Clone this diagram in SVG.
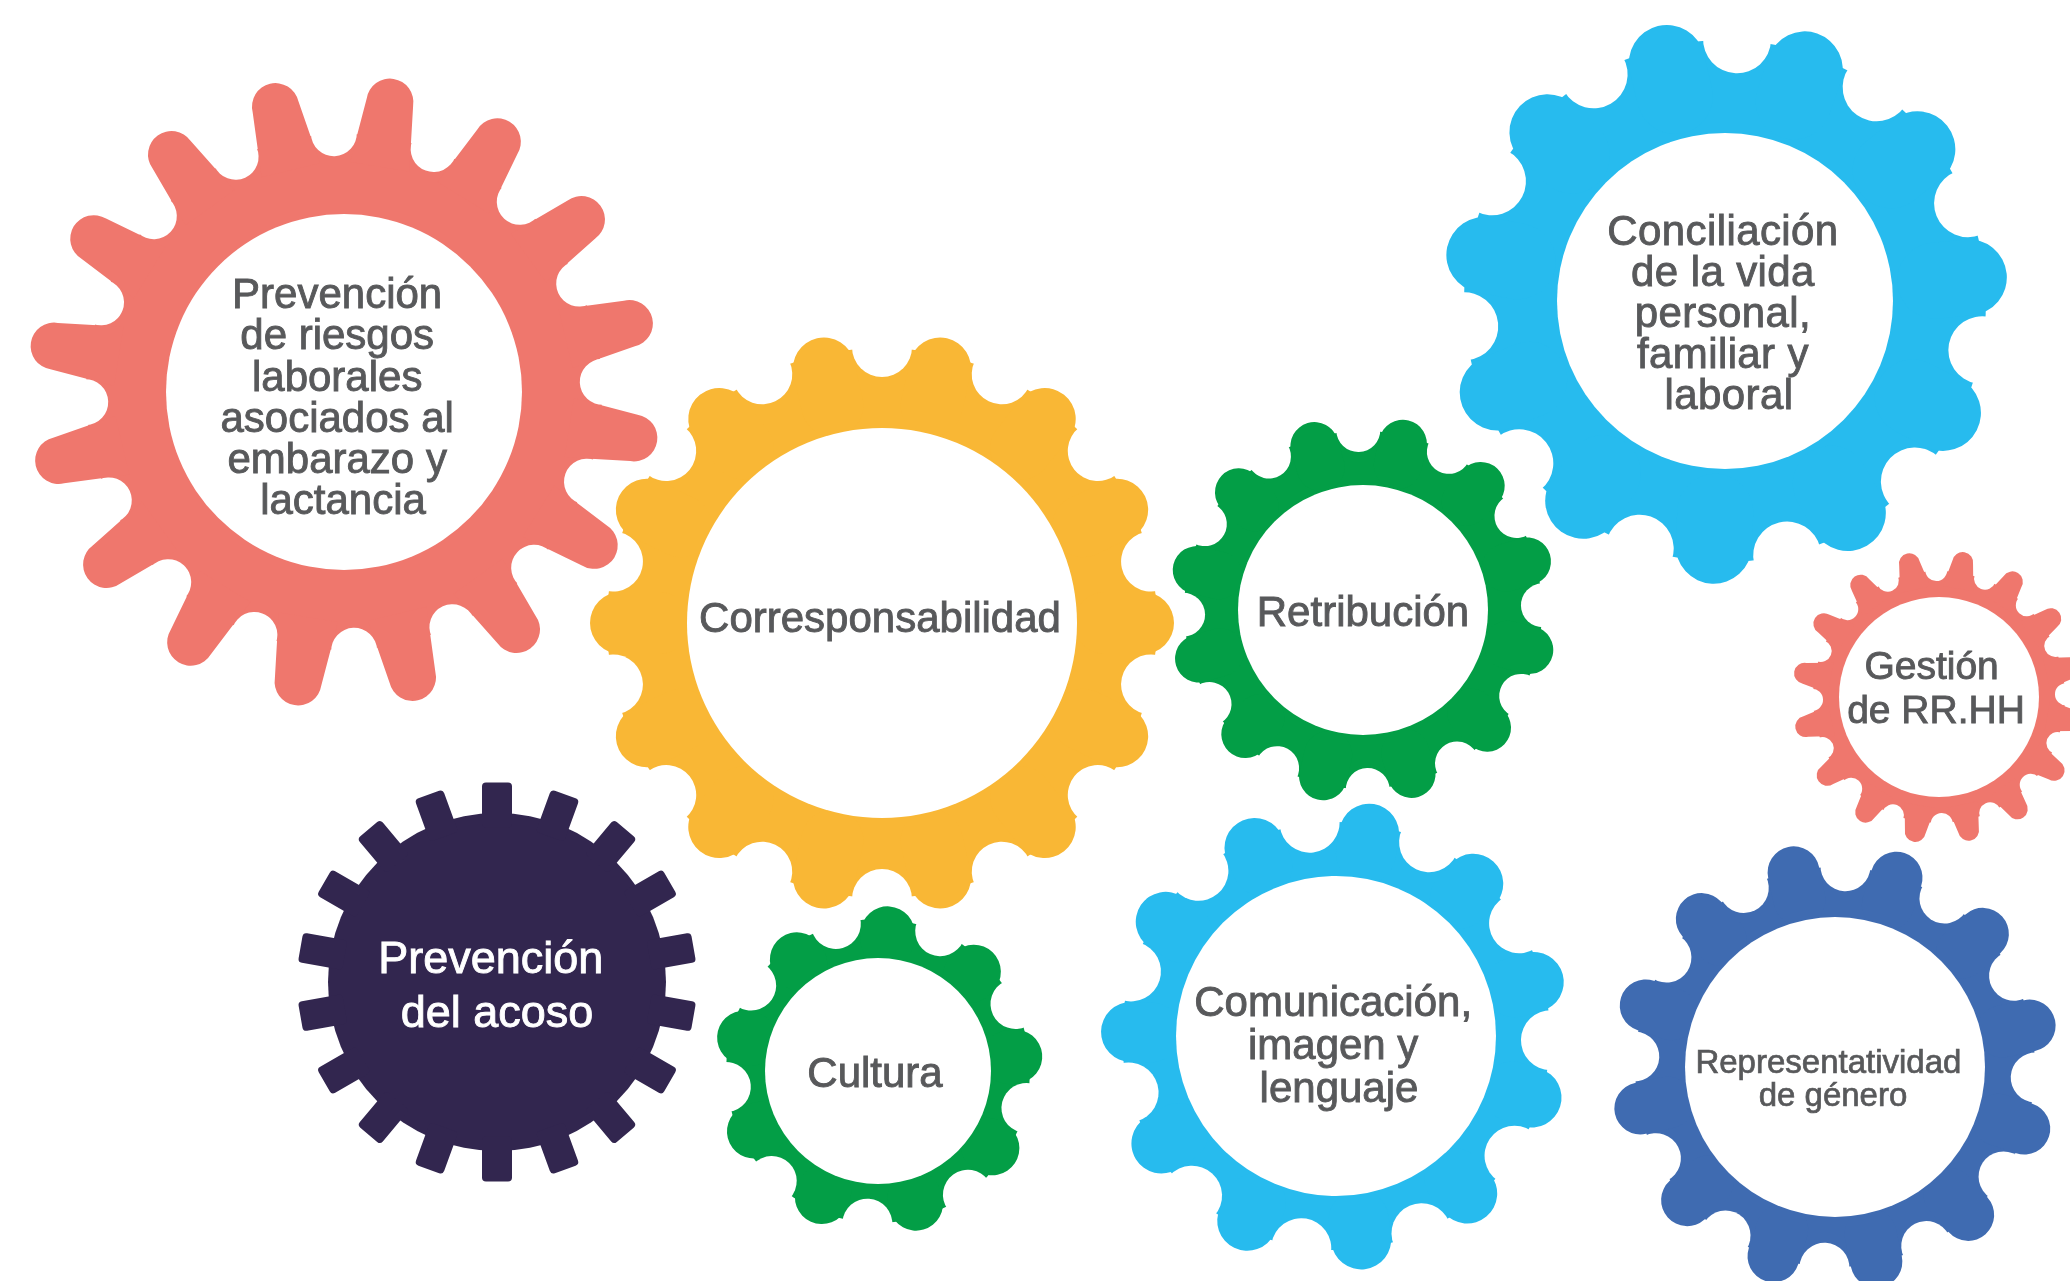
<svg xmlns="http://www.w3.org/2000/svg" width="2070" height="1281" viewBox="0 0 2070 1281">
<style>
.in{fill:#fff}
.lbl{font-family:"Liberation Sans",Arial,sans-serif;font-size:42px;fill:#58595b;stroke:#58595b;stroke-width:0.9px;text-anchor:middle}
.lbl.wht{fill:#fff;stroke:#fff;font-size:45px}
.red{fill:#ef776d}.yel{fill:#f9b735}.cy{fill:#27bbee}.grn{fill:#039e46}.nav{fill:#32264f}.dbl{fill:#3f6bb1}
.blk{fill:#000}
</style>
<defs>
  <!-- tooth and notch shapes, drawn pointing up from the gear centre -->
  <path id="t-riesgos" d="M-30,-228 L-23.5,-293.5 A23.5,23.5 0 0 1 23.5,-293.5 L30,-228 Z"/>
  <circle id="n-riesgos" cx="0" cy="-259" r="23"/>
  <path id="t-gestion" d="M-15.5,-110 L-10.5,-136.5 A10.5,10.5 0 0 1 10.5,-136.5 L15.5,-110 Z"/>
  <circle id="n-gestion" cx="0" cy="-127" r="11"/>
  <rect id="t-corr" x="-31" y="-292" width="62" height="100" rx="31"/>
  <circle id="n-corr" cx="0" cy="-276" r="30"/>
  <rect id="t-conc" x="-38" y="-283" width="76" height="110" rx="38"/>
  <circle id="n-conc" cx="0" cy="-262" r="34"/>
  <rect id="t-retr" x="-24" y="-195" width="48" height="70" rx="24"/>
  <circle id="n-retr" cx="0" cy="-180" r="22"/>
  <rect id="t-cult" x="-27" y="-165" width="54" height="60" rx="27"/>
  <circle id="n-cult" cx="0" cy="-153" r="25"/>
  <rect id="t-comu" x="-30" y="-235" width="60" height="80" rx="30"/>
  <circle id="n-comu" cx="0" cy="-215" r="30"/>
  <rect id="t-repr" x="-26" y="-225" width="52" height="80" rx="26"/>
  <circle id="n-repr" cx="0" cy="-201" r="25"/>
  <rect id="t-acoso" x="-15" y="-199.5" width="30" height="45" rx="4"/>

  <mask id="m-riesgos" maskUnits="userSpaceOnUse" x="-330" y="-330" width="660" height="660">
    <rect x="-330" y="-330" width="660" height="660" fill="#fff"/>
    <g class="blk">
      <use href="#n-riesgos" transform="rotate(20.25)"/><use href="#n-riesgos" transform="rotate(42.75)"/>
      <use href="#n-riesgos" transform="rotate(65.25)"/><use href="#n-riesgos" transform="rotate(87.75)"/>
      <use href="#n-riesgos" transform="rotate(110.25)"/><use href="#n-riesgos" transform="rotate(132.75)"/>
      <use href="#n-riesgos" transform="rotate(155.25)"/><use href="#n-riesgos" transform="rotate(177.75)"/>
      <use href="#n-riesgos" transform="rotate(200.25)"/><use href="#n-riesgos" transform="rotate(222.75)"/>
      <use href="#n-riesgos" transform="rotate(245.25)"/><use href="#n-riesgos" transform="rotate(267.75)"/>
      <use href="#n-riesgos" transform="rotate(290.25)"/><use href="#n-riesgos" transform="rotate(312.75)"/>
      <use href="#n-riesgos" transform="rotate(335.25)"/><use href="#n-riesgos" transform="rotate(357.75)"/>
    </g>
  </mask>
  <mask id="m-gestion" maskUnits="userSpaceOnUse" x="-160" y="-160" width="320" height="320">
    <rect x="-160" y="-160" width="320" height="320" fill="#fff"/>
    <g class="blk">
      <use href="#n-gestion" transform="rotate(21.25)"/><use href="#n-gestion" transform="rotate(43.75)"/>
      <use href="#n-gestion" transform="rotate(66.25)"/><use href="#n-gestion" transform="rotate(88.75)"/>
      <use href="#n-gestion" transform="rotate(111.25)"/><use href="#n-gestion" transform="rotate(133.75)"/>
      <use href="#n-gestion" transform="rotate(156.25)"/><use href="#n-gestion" transform="rotate(178.75)"/>
      <use href="#n-gestion" transform="rotate(201.25)"/><use href="#n-gestion" transform="rotate(223.75)"/>
      <use href="#n-gestion" transform="rotate(246.25)"/><use href="#n-gestion" transform="rotate(268.75)"/>
      <use href="#n-gestion" transform="rotate(291.25)"/><use href="#n-gestion" transform="rotate(313.75)"/>
      <use href="#n-gestion" transform="rotate(336.25)"/><use href="#n-gestion" transform="rotate(358.75)"/>
    </g>
  </mask>
  <mask id="m-corr" maskUnits="userSpaceOnUse" x="-310" y="-310" width="620" height="620">
    <rect x="-310" y="-310" width="620" height="620" fill="#fff"/>
    <g class="blk">
      <use href="#n-corr" transform="rotate(0)"/><use href="#n-corr" transform="rotate(25.71)"/>
      <use href="#n-corr" transform="rotate(51.43)"/><use href="#n-corr" transform="rotate(77.14)"/>
      <use href="#n-corr" transform="rotate(102.86)"/><use href="#n-corr" transform="rotate(128.57)"/>
      <use href="#n-corr" transform="rotate(154.29)"/><use href="#n-corr" transform="rotate(180)"/>
      <use href="#n-corr" transform="rotate(205.71)"/><use href="#n-corr" transform="rotate(231.43)"/>
      <use href="#n-corr" transform="rotate(257.14)"/><use href="#n-corr" transform="rotate(282.86)"/>
      <use href="#n-corr" transform="rotate(308.57)"/><use href="#n-corr" transform="rotate(334.29)"/>
    </g>
  </mask>
  <mask id="m-conc" maskUnits="userSpaceOnUse" x="-310" y="-310" width="620" height="620">
    <rect x="-310" y="-310" width="620" height="620" fill="#fff"/>
    <g class="blk">
      <use href="#n-conc" transform="rotate(2.64)"/><use href="#n-conc" transform="rotate(35.36)"/>
      <use href="#n-conc" transform="rotate(68.09)"/><use href="#n-conc" transform="rotate(100.82)"/>
      <use href="#n-conc" transform="rotate(133.55)"/><use href="#n-conc" transform="rotate(166.27)"/>
      <use href="#n-conc" transform="rotate(199)"/><use href="#n-conc" transform="rotate(231.73)"/>
      <use href="#n-conc" transform="rotate(264.45)"/><use href="#n-conc" transform="rotate(297.18)"/>
      <use href="#n-conc" transform="rotate(329.91)"/>
    </g>
  </mask>
  <mask id="m-retr" maskUnits="userSpaceOnUse" x="-220" y="-220" width="440" height="440">
    <rect x="-220" y="-220" width="440" height="440" fill="#fff"/>
    <g class="blk">
      <use href="#n-retr" transform="rotate(28.5)"/><use href="#n-retr" transform="rotate(58.5)"/>
      <use href="#n-retr" transform="rotate(88.5)"/><use href="#n-retr" transform="rotate(118.5)"/>
      <use href="#n-retr" transform="rotate(148.5)"/><use href="#n-retr" transform="rotate(178.5)"/>
      <use href="#n-retr" transform="rotate(208.5)"/><use href="#n-retr" transform="rotate(238.5)"/>
      <use href="#n-retr" transform="rotate(268.5)"/><use href="#n-retr" transform="rotate(298.5)"/>
      <use href="#n-retr" transform="rotate(328.5)"/><use href="#n-retr" transform="rotate(358.5)"/>
    </g>
  </mask>
  <mask id="m-cult" maskUnits="userSpaceOnUse" x="-190" y="-190" width="380" height="380">
    <rect x="-190" y="-190" width="380" height="380" fill="#fff"/>
    <g class="blk">
      <use href="#n-cult" transform="rotate(24)"/><use href="#n-cult" transform="rotate(64)"/>
      <use href="#n-cult" transform="rotate(104)"/><use href="#n-cult" transform="rotate(144)"/>
      <use href="#n-cult" transform="rotate(184)"/><use href="#n-cult" transform="rotate(224)"/>
      <use href="#n-cult" transform="rotate(264)"/><use href="#n-cult" transform="rotate(304)"/>
      <use href="#n-cult" transform="rotate(344)"/>
    </g>
  </mask>
  <mask id="m-comu" maskUnits="userSpaceOnUse" x="-260" y="-260" width="520" height="520">
    <rect x="-260" y="-260" width="520" height="520" fill="#fff"/>
    <g class="blk">
      <use href="#n-comu" transform="rotate(25.66)"/><use href="#n-comu" transform="rotate(58.39)"/>
      <use href="#n-comu" transform="rotate(91.12)"/><use href="#n-comu" transform="rotate(123.85)"/>
      <use href="#n-comu" transform="rotate(156.57)"/><use href="#n-comu" transform="rotate(189.3)"/>
      <use href="#n-comu" transform="rotate(222.03)"/><use href="#n-comu" transform="rotate(254.75)"/>
      <use href="#n-comu" transform="rotate(287.48)"/><use href="#n-comu" transform="rotate(320.21)"/>
      <use href="#n-comu" transform="rotate(352.94)"/>
    </g>
  </mask>
  <mask id="m-repr" maskUnits="userSpaceOnUse" x="-250" y="-250" width="500" height="500">
    <rect x="-250" y="-250" width="500" height="500" fill="#fff"/>
    <g class="blk">
      <use href="#n-repr" transform="rotate(3)"/><use href="#n-repr" transform="rotate(33)"/>
      <use href="#n-repr" transform="rotate(63)"/><use href="#n-repr" transform="rotate(93)"/>
      <use href="#n-repr" transform="rotate(123)"/><use href="#n-repr" transform="rotate(153)"/>
      <use href="#n-repr" transform="rotate(183)"/><use href="#n-repr" transform="rotate(213)"/>
      <use href="#n-repr" transform="rotate(243)"/><use href="#n-repr" transform="rotate(273)"/>
      <use href="#n-repr" transform="rotate(303)"/><use href="#n-repr" transform="rotate(333)"/>
    </g>
  </mask>
</defs>

<rect width="2070" height="1281" fill="#fff"/>

<g id="gear-riesgos" transform="translate(344,392)">
  <g class="red" mask="url(#m-riesgos)">
    <circle r="258"/>
    <use href="#t-riesgos" transform="rotate(9)"/><use href="#t-riesgos" transform="rotate(31.5)"/>
    <use href="#t-riesgos" transform="rotate(54)"/><use href="#t-riesgos" transform="rotate(76.5)"/>
    <use href="#t-riesgos" transform="rotate(99)"/><use href="#t-riesgos" transform="rotate(121.5)"/>
    <use href="#t-riesgos" transform="rotate(144)"/><use href="#t-riesgos" transform="rotate(166.5)"/>
    <use href="#t-riesgos" transform="rotate(189)"/><use href="#t-riesgos" transform="rotate(211.5)"/>
    <use href="#t-riesgos" transform="rotate(234)"/><use href="#t-riesgos" transform="rotate(256.5)"/>
    <use href="#t-riesgos" transform="rotate(279)"/><use href="#t-riesgos" transform="rotate(301.5)"/>
    <use href="#t-riesgos" transform="rotate(324)"/><use href="#t-riesgos" transform="rotate(346.5)"/>
  </g>
  <circle class="in" r="178"/>
  <text class="lbl">
    <tspan x="-1" y="-84">Prevención</tspan>
    <tspan x="-1" y="-43">de riesgos</tspan>
    <tspan x="-1" y="-1">laborales</tspan>
    <tspan x="-1" y="40">asociados al</tspan>
    <tspan x="-1" y="81">embarazo y</tspan>
    <tspan x="-1" y="122">lactancia</tspan>
  </text>
</g>

<g id="gear-corresponsabilidad" transform="translate(882,623)">
  <g class="yel" mask="url(#m-corr)">
    <circle r="275"/>
    <use href="#t-corr" transform="rotate(12.86)"/><use href="#t-corr" transform="rotate(38.57)"/>
    <use href="#t-corr" transform="rotate(64.29)"/><use href="#t-corr" transform="rotate(90)"/>
    <use href="#t-corr" transform="rotate(115.71)"/><use href="#t-corr" transform="rotate(141.43)"/>
    <use href="#t-corr" transform="rotate(167.14)"/><use href="#t-corr" transform="rotate(192.86)"/>
    <use href="#t-corr" transform="rotate(218.57)"/><use href="#t-corr" transform="rotate(244.29)"/>
    <use href="#t-corr" transform="rotate(270)"/><use href="#t-corr" transform="rotate(295.71)"/>
    <use href="#t-corr" transform="rotate(321.43)"/><use href="#t-corr" transform="rotate(347.14)"/>
  </g>
  <circle class="in" r="195"/>
  <text class="lbl" x="-2" y="9">Corresponsabilidad</text>
</g>

<g id="gear-acoso" transform="translate(497,982)">
  <g class="nav">
    <circle r="169"/>
    <use href="#t-acoso" transform="rotate(0)"/><use href="#t-acoso" transform="rotate(20)"/>
    <use href="#t-acoso" transform="rotate(40)"/><use href="#t-acoso" transform="rotate(60)"/>
    <use href="#t-acoso" transform="rotate(80)"/><use href="#t-acoso" transform="rotate(100)"/>
    <use href="#t-acoso" transform="rotate(120)"/><use href="#t-acoso" transform="rotate(140)"/>
    <use href="#t-acoso" transform="rotate(160)"/><use href="#t-acoso" transform="rotate(180)"/>
    <use href="#t-acoso" transform="rotate(200)"/><use href="#t-acoso" transform="rotate(220)"/>
    <use href="#t-acoso" transform="rotate(240)"/><use href="#t-acoso" transform="rotate(260)"/>
    <use href="#t-acoso" transform="rotate(280)"/><use href="#t-acoso" transform="rotate(300)"/>
    <use href="#t-acoso" transform="rotate(320)"/><use href="#t-acoso" transform="rotate(340)"/>
  </g>
  <text class="lbl wht">
    <tspan x="0" y="-9">Prevención</tspan>
    <tspan x="0" y="45">del acoso</tspan>
  </text>
</g>

<g id="gear-cultura" transform="translate(878,1071)">
  <g class="grn" mask="url(#m-cult)">
    <circle r="152"/>
    <use href="#t-cult" transform="rotate(4)"/><use href="#t-cult" transform="rotate(44)"/>
    <use href="#t-cult" transform="rotate(84)"/><use href="#t-cult" transform="rotate(124)"/>
    <use href="#t-cult" transform="rotate(164)"/><use href="#t-cult" transform="rotate(204)"/>
    <use href="#t-cult" transform="rotate(244)"/><use href="#t-cult" transform="rotate(284)"/>
    <use href="#t-cult" transform="rotate(324)"/>
  </g>
  <circle class="in" r="113"/>
  <text class="lbl" x="-3" y="16">Cultura</text>
</g>

<g id="gear-retribucion" transform="translate(1363,610)">
  <g class="grn" mask="url(#m-retr)">
    <circle r="179"/>
    <use href="#t-retr" transform="rotate(13.5)"/><use href="#t-retr" transform="rotate(43.5)"/>
    <use href="#t-retr" transform="rotate(73.5)"/><use href="#t-retr" transform="rotate(103.5)"/>
    <use href="#t-retr" transform="rotate(133.5)"/><use href="#t-retr" transform="rotate(163.5)"/>
    <use href="#t-retr" transform="rotate(193.5)"/><use href="#t-retr" transform="rotate(223.5)"/>
    <use href="#t-retr" transform="rotate(253.5)"/><use href="#t-retr" transform="rotate(283.5)"/>
    <use href="#t-retr" transform="rotate(313.5)"/><use href="#t-retr" transform="rotate(343.5)"/>
  </g>
  <circle class="in" r="125"/>
  <text class="lbl" x="0" y="16">Retribución</text>
</g>

<g id="gear-conciliacion" transform="translate(1725,301)">
  <g class="cy" mask="url(#m-conc)">
    <circle r="261"/>
    <use href="#t-conc" transform="rotate(19)"/><use href="#t-conc" transform="rotate(51.73)"/>
    <use href="#t-conc" transform="rotate(84.45)"/><use href="#t-conc" transform="rotate(117.18)"/>
    <use href="#t-conc" transform="rotate(149.91)"/><use href="#t-conc" transform="rotate(182.64)"/>
    <use href="#t-conc" transform="rotate(215.36)"/><use href="#t-conc" transform="rotate(248.09)"/>
    <use href="#t-conc" transform="rotate(280.82)"/><use href="#t-conc" transform="rotate(313.55)"/>
    <use href="#t-conc" transform="rotate(346.27)"/>
  </g>
  <circle class="in" r="168"/>
  <text class="lbl" style="letter-spacing:0.4px">
    <tspan x="4" y="-56">Conciliación</tspan>
    <tspan x="4" y="-15">de la vida</tspan>
    <tspan x="4" y="26">personal,</tspan>
    <tspan x="4" y="67">familiar y</tspan>
    <tspan x="4" y="108">laboral</tspan>
  </text>
</g>

<g id="gear-gestion" transform="translate(1939,697)">
  <g class="red" mask="url(#m-gestion)">
    <circle r="126"/>
    <use href="#t-gestion" transform="rotate(10)"/><use href="#t-gestion" transform="rotate(32.5)"/>
    <use href="#t-gestion" transform="rotate(55)"/><use href="#t-gestion" transform="rotate(77.5)"/>
    <use href="#t-gestion" transform="rotate(100)"/><use href="#t-gestion" transform="rotate(122.5)"/>
    <use href="#t-gestion" transform="rotate(145)"/><use href="#t-gestion" transform="rotate(167.5)"/>
    <use href="#t-gestion" transform="rotate(190)"/><use href="#t-gestion" transform="rotate(212.5)"/>
    <use href="#t-gestion" transform="rotate(235)"/><use href="#t-gestion" transform="rotate(257.5)"/>
    <use href="#t-gestion" transform="rotate(280)"/><use href="#t-gestion" transform="rotate(302.5)"/>
    <use href="#t-gestion" transform="rotate(325)"/><use href="#t-gestion" transform="rotate(347.5)"/>
  </g>
  <circle class="in" r="100"/>
  <text class="lbl" style="font-size:39px">
    <tspan x="-2" y="-18">Gestión</tspan>
    <tspan x="-3" y="26">de RR.HH</tspan>
  </text>
</g>

<g id="gear-comunicacion" transform="translate(1336,1036)">
  <g class="cy" mask="url(#m-comu)">
    <circle r="214"/>
    <use href="#t-comu" transform="rotate(9.3)"/><use href="#t-comu" transform="rotate(42.03)"/>
    <use href="#t-comu" transform="rotate(74.75)"/><use href="#t-comu" transform="rotate(107.48)"/>
    <use href="#t-comu" transform="rotate(140.21)"/><use href="#t-comu" transform="rotate(172.94)"/>
    <use href="#t-comu" transform="rotate(205.66)"/><use href="#t-comu" transform="rotate(238.39)"/>
    <use href="#t-comu" transform="rotate(271.12)"/><use href="#t-comu" transform="rotate(303.85)"/>
    <use href="#t-comu" transform="rotate(336.57)"/>
  </g>
  <circle class="in" r="160"/>
  <text class="lbl">
    <tspan x="3" y="-20">Comunicación,</tspan>
    <tspan x="3" y="23">imagen y</tspan>
    <tspan x="3" y="66">lenguaje</tspan>
  </text>
</g>

<g id="gear-representatividad" transform="translate(1835,1067)">
  <g class="dbl" mask="url(#m-repr)">
    <circle r="200"/>
    <use href="#t-repr" transform="rotate(18)"/><use href="#t-repr" transform="rotate(48)"/>
    <use href="#t-repr" transform="rotate(78)"/><use href="#t-repr" transform="rotate(108)"/>
    <use href="#t-repr" transform="rotate(138)"/><use href="#t-repr" transform="rotate(168)"/>
    <use href="#t-repr" transform="rotate(198)"/><use href="#t-repr" transform="rotate(228)"/>
    <use href="#t-repr" transform="rotate(258)"/><use href="#t-repr" transform="rotate(288)"/>
    <use href="#t-repr" transform="rotate(318)"/><use href="#t-repr" transform="rotate(348)"/>
  </g>
  <circle class="in" r="150"/>
  <text class="lbl" style="font-size:33px;stroke-width:0.7px">
    <tspan x="-2" y="6">Representatividad</tspan>
    <tspan x="-2" y="39">de género</tspan>
  </text>
</g>

<g id="connectors"/>
</svg>
